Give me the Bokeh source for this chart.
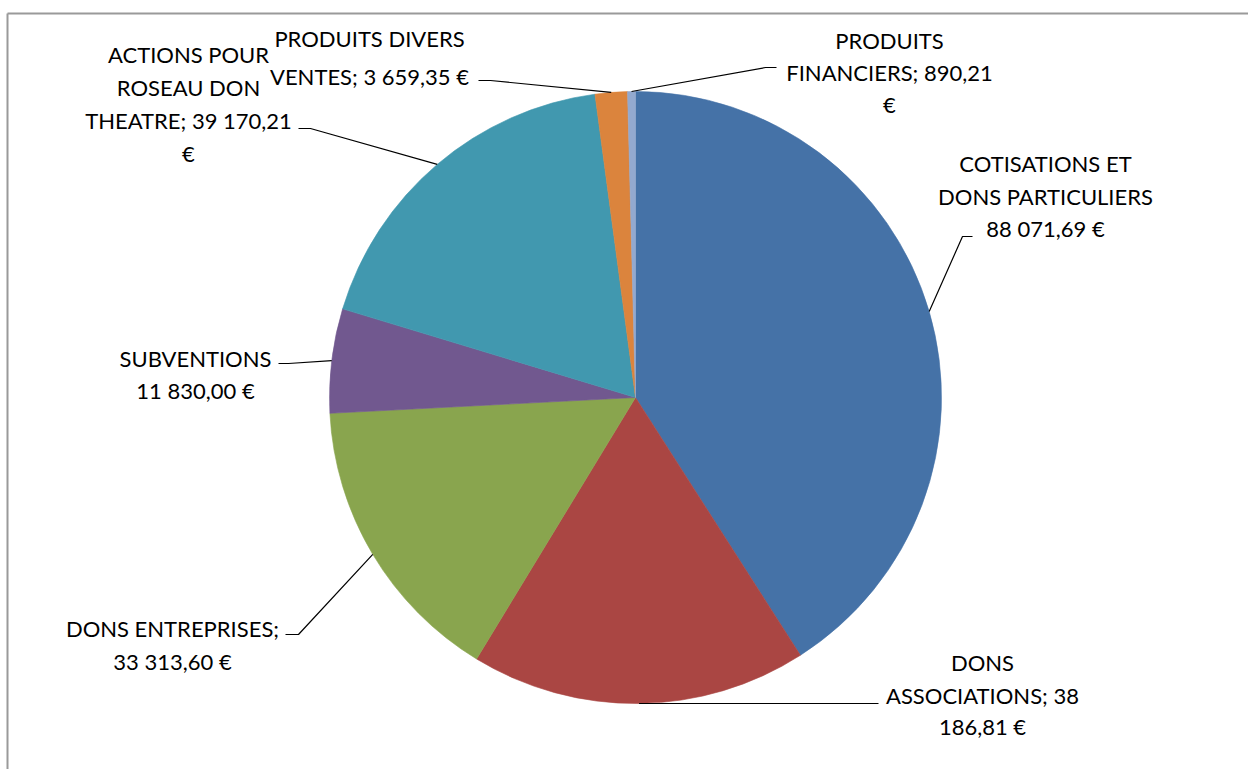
import math
from bokeh.plotting import figure
from bokeh.models import Range1d, ColumnDataSource
from bokeh.core.properties import value
from bokeh.embed import file_html
from bokeh.resources import INLINE

# ---------------- data ----------------
categories = [
    "COTISATIONS ET DONS PARTICULIERS",
    "DONS ASSOCIATIONS",
    "DONS ENTREPRISES",
    "SUBVENTIONS",
    "ACTIONS POUR ROSEAU DON THEATRE",
    "PRODUITS DIVERS VENTES",
    "PRODUITS FINANCIERS",
]
amounts = [88071.69, 38186.81, 33313.60, 11830.00, 39170.21, 3659.35, 890.21]
label_lines = [
    ["COTISATIONS ET", "DONS PARTICULIERS", "88 071,69 €"],
    ["DONS", "ASSOCIATIONS; 38", "186,81 €"],
    ["DONS ENTREPRISES;", "33 313,60 €"],
    ["SUBVENTIONS", "11 830,00 €"],
    ["ACTIONS POUR", "ROSEAU DON", "THEATRE; 39 170,21", "€"],
    ["PRODUITS DIVERS", "VENTES; 3 659,35 €"],
    ["PRODUITS", "FINANCIERS; 890,21", "€"],
]
colors = ["#4572A7", "#AA4643", "#89A54E", "#71588F", "#4198AF", "#DB843D", "#93A9CF"]

# ---------------- layout (screen pixels) ----------------
W, H = 1248, 769

CX, CY, R = 635, 397, 306
label_x = [1045, 982, 172, 195, 188, 369, 889]
label_ys = [
    [163, 196, 228],
    [662, 695, 726],
    [628, 661],
    [358, 390],
    [54, 87, 120, 153],
    [38, 76],
    [40, 72, 104],
]
leader_end = [(972, 236), (878, 703), (285, 634), (278, 363), (298, 128), (478, 80), (776, 67)]
leader_knee = [(962, 236), (878, 703), (298, 634), (288, 363), (310, 128), (490, 80), (765, 67)]

FONT = "Lato"
FSIZE = "22px"

p = figure(width=W, height=H, output_backend="svg", toolbar_location=None,
           x_range=Range1d(0, W), y_range=Range1d(0, H),
           min_border=0, min_border_left=0, min_border_right=0,
           min_border_top=0, min_border_bottom=0)
p.axis.visible = False
p.grid.visible = False
p.outline_line_color = None
p.background_fill_color = "white"
p.border_fill_color = "white"

def to_y(Y):
    # screen y (downwards) to data y (upwards)
    return H - Y

total = sum(amounts)
starts, ends, mids = [], [], []
cum = 0.0
for a in amounts:
    c0 = cum / total * 2 * math.pi
    cum += a
    c1 = cum / total * 2 * math.pi
    starts.append(math.pi / 2 - c1)
    ends.append(math.pi / 2 - c0)
    mids.append((c0 + c1) / 2)

cyd = to_y(CY)
src = ColumnDataSource(dict(cat=categories, amount=amounts, start=starts, end=ends, color=colors))
p.wedge(x=CX, y=cyd, radius=R, start_angle="start", end_angle="end",
        fill_color="color", line_color="color", line_width=0.6, source=src)

# leader lines
xs, ys = [], []
for i, m in enumerate(mids):
    ex = CX + R * math.sin(m)
    ey = cyd + R * math.cos(m)
    (lx, ly), (kx, ky) = leader_end[i], leader_knee[i]
    xs.append([lx, kx, ex])
    ys.append([to_y(ly), to_y(ky), ey])
p.multi_line(xs=xs, ys=ys, line_color="black", line_width=1.2)

# labels
tx, ty, tt = [], [], []
for i, lines in enumerate(label_lines):
    for j, t in enumerate(lines):
        tx.append(label_x[i])
        ty.append(to_y(label_ys[i][j]))
        tt.append(t)
p.text(x=tx, y=ty, text=tt, text_align="center", text_baseline="middle",
       text_font=value(FONT), text_font_size=FSIZE, text_color="black")

# chart frame (top and left edges visible in the reference)
p.segment(x0=[7, 7], y0=[to_y(13), to_y(13)], x1=[W, 7], y1=[to_y(13), 0],
          line_color="#9a9a9a", line_width=2)

open("out.html", "w").write(file_html(p, INLINE))
